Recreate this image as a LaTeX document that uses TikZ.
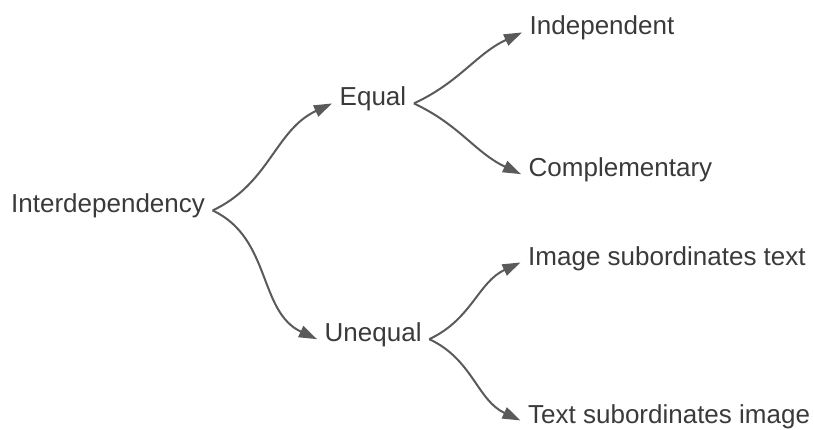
\documentclass[tikz,border=0pt]{standalone}
\usepackage{fontspec}
\setmainfont{Liberation Sans}
\usetikzlibrary{arrows.meta}
\definecolor{txt}{HTML}{3A3A3A}
\definecolor{ln}{HTML}{5A5A5A}
\begin{document}
\begin{tikzpicture}[x=1pt,y=1pt,
  lbl/.style={anchor=base west, inner xsep=7.5pt, inner ysep=0pt, text=txt,
    font=\fontsize{26}{30}\selectfont, text height=0.72em, text depth=0.21em},
  link/.style={draw=ln, line width=2pt, -{Triangle[length=18pt,width=12pt]}},
  up/.style={out=25,in=205},
  down/.style={out=-25,in=155}]
\useasboundingbox (0,0) rectangle (814,429);
\node[lbl] (inter)   at (3.5,216)   {Interdependency};
\node[lbl] (equal)   at (332,323)   {Equal};
\node[lbl] (indep)   at (522,394)   {Independent};
\node[lbl] (compl)   at (521,252.3) {Complementary};
\node[lbl] (unequal) at (317,87.3)  {Unequal};
\node[lbl] (imgsub)  at (520.5,164) {Image subordinates text};
\node[lbl] (txtsub)  at (520.5,6)   {Text subordinates image};
\draw[link] (inter.east) to[up] (equal.west);
\draw[link] (inter.east) to[down] (unequal.west);
\draw[link] (equal.east) to[up] (indep.west);
\draw[link] (equal.east) to[down] (compl.west);
\draw[link] (unequal.east) to[up] (imgsub.west);
\draw[link] (unequal.east) to[down] (txtsub.west);
\end{tikzpicture}
\end{document}
